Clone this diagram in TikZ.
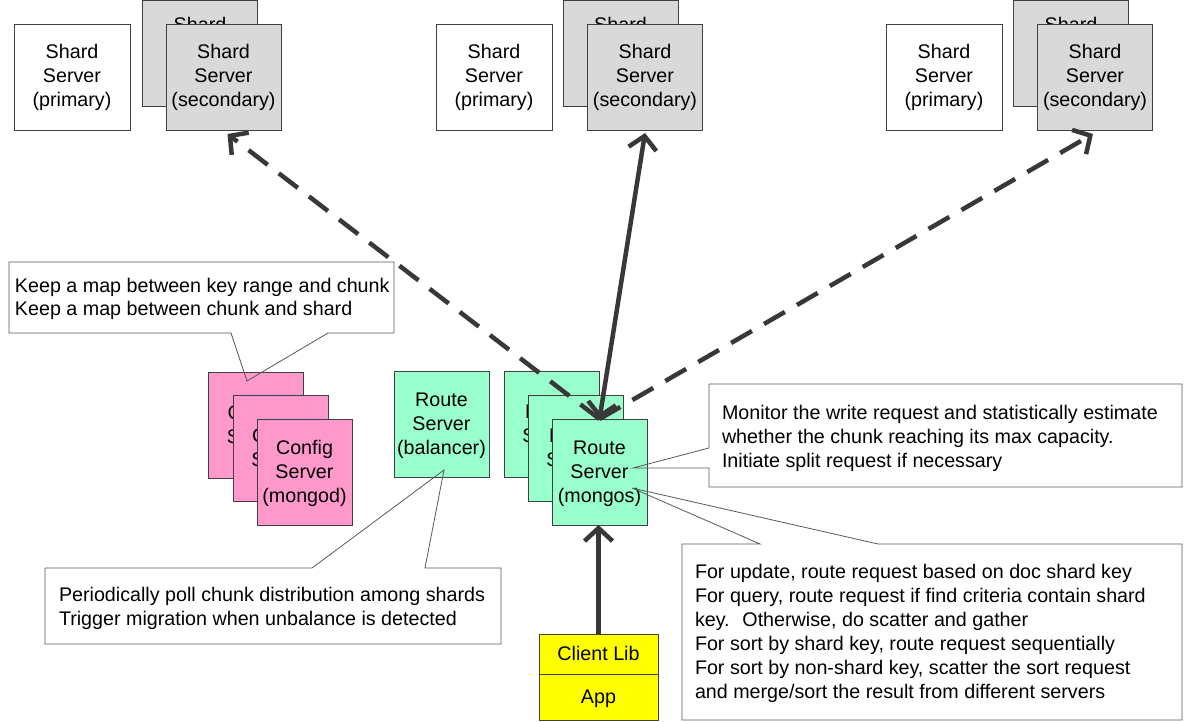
\documentclass[tikz,border=0pt]{standalone}
\usepackage{fontspec}
\setmainfont{Liberation Sans}
\usetikzlibrary{arrows.meta}
\definecolor{bordercol}{HTML}{404040}
\definecolor{notecol}{HTML}{595959}
\definecolor{graysec}{HTML}{D9D9D9}
\definecolor{pinkcfg}{HTML}{FF99CC}
\definecolor{greenrt}{HTML}{99FFCC}
\definecolor{yellowcl}{HTML}{FFFF00}
\definecolor{arrowcol}{HTML}{383838}
\begin{document}
\begin{tikzpicture}[x=1pt,y=-1pt,
  every node/.style={inner sep=0pt,outer sep=0pt},
  txt/.style={font=\fontsize{19.7}{24}\selectfont},
  six/.style={text height=136pt,text depth=4pt},
  three/.style={text height=64pt,text depth=4pt},
  two/.style={text height=40pt,text depth=4pt},
  one/.style={text height=16pt,text depth=4pt},
  backshard/.style={text height=40pt,text depth=35pt},
  srv/.style={txt,draw=bordercol,line width=0.8pt,align=center,minimum height=106pt},
  shardp/.style={srv,three,fill=white,minimum width=116pt},
  shards/.style={srv,three,fill=graysec,minimum width=115pt},
  cfg/.style={srv,fill=pinkcfg,minimum width=95pt},
  route/.style={srv,fill=greenrt,minimum width=95pt},
  client/.style={txt,one,draw=bordercol,line width=0.8pt,fill=yellowcl,minimum width=119pt},
  notetext/.style={txt,align=left,anchor=west},
  notebg/.style={fill=white},
  noteline/.style={draw=notecol,line width=0.8pt,line join=miter},
  link/.style={draw=arrowcol,line width=4.5pt},
  barb/.style={-{Straight Barb[length=13pt,width=28pt]}},
  dbarb/.style={{Straight Barb[length=13pt,width=28pt]}-{Straight Barb[length=13pt,width=28pt]}},
  dashlink/.style={link,dash pattern=on 24pt off 14pt}
]
\useasboundingbox (0,0) rectangle (1184,722);
\fill[white] (0,0) rectangle (1184,722);

% shard groups
\node[shardp] (s1p) at (72,77) {Shard\\Server\\(primary)};
\node[shards,backshard] (s1b) at (200,53) {Shard\\Server};
\node[shards] (s1f) at (223.5,77) {Shard\\Server\\(secondary)};

\node[shardp] (s2p) at (494,77) {Shard\\Server\\(primary)};
\node[shards,backshard] (s2b) at (620.5,53) {Shard\\Server};
\node[shards] (s2f) at (645,77) {Shard\\Server\\(secondary)};

\node[shardp] (s3p) at (944,77) {Shard\\Server\\(primary)};
\node[shards,backshard] (s3b) at (1071,53) {Shard\\Server};
\node[shards] (s3f) at (1095,77) {Shard\\Server\\(secondary)};

% config servers
\node[cfg,two] (c1) at (256,425) {Config\\Server};
\node[cfg,two] (c2) at (280.5,448.5) {Config\\Server};
\node[cfg,three] (c3) at (304.5,472) {Config\\Server\\(mongod)};

% route servers
\node[route,three] (rb) at (441.5,424.5) {Route\\Server\\(balancer)};
\node[route,two] (m1) at (551.5,424.5) {Route\\Server};
\node[route,two] (m2) at (575.5,448) {Route\\Server};
\node[route,three] (m3) at (599.5,472) {Route\\Server\\(mongos)};

% client
\node[client,minimum height=40pt] (cl) at (598.5,654) {Client Lib};
\node[client,minimum height=46pt] (app) at (598.5,697) {App};

% callout 1
\fill[notebg] (9,262) rectangle (394,333);
\draw[noteline] (231,333) -- (9,333) -- (9,262) -- (394,262) -- (394,333) -- (328,333) -- (247,381) -- cycle;
\node[notetext,two] (n1) at (15,298) {Keep a map between key range and chunk\\Keep a map between chunk and shard};

% callout 2
\fill[notebg] (45,568) rectangle (501,644);
\draw[noteline] (312,568) -- (45,568) -- (45,644) -- (501,644) -- (501,568) -- (425,568) -- (444,470) -- cycle;
\node[notetext,two] (n2) at (59,607) {Periodically poll chunk distribution among shards\\Trigger migration when unbalance is detected};

% callout 3
\fill[notebg] (709,384) rectangle (1182,487);
\draw[noteline] (709,448) -- (709,384) -- (1182,384) -- (1182,487) -- (709,487) -- (709,468) -- (633,468) -- cycle;
\node[notetext,three] (n3) at (722,437) {Monitor the write request and statistically estimate\\whether the chunk reaching its max capacity.\\Initiate split request if necessary};

% callout 4
\fill[notebg] (682,544) rectangle (1182,720);
\draw[noteline] (760,544) -- (682,544) -- (682,720) -- (1182,720) -- (1182,544) -- (878,544) -- (632,488) -- cycle;
\node[notetext,six] (n4) at (695,632.5) {For update, route request based on doc shard key\\For query, route request if find criteria contain shard\\key.~ Otherwise, do scatter and gather\\For sort by shard key, route request sequentially\\For sort by non-shard key, scatter the sort request\\and merge/sort the result from different servers};

% connectors
\draw[dashlink,barb] (m3.north) -- ([xshift=4pt,yshift=-4pt]s1f.south);
\draw[dashlink,barb] (m3.north) -- ([xshift=-2pt,yshift=-4pt]s3f.south);
\draw[link,dbarb] (m3.north) -- ([yshift=-3pt]s2f.south);
\draw[link,barb] (cl.north) -- (cl.north |- m3.south);
\end{tikzpicture}
\end{document}
